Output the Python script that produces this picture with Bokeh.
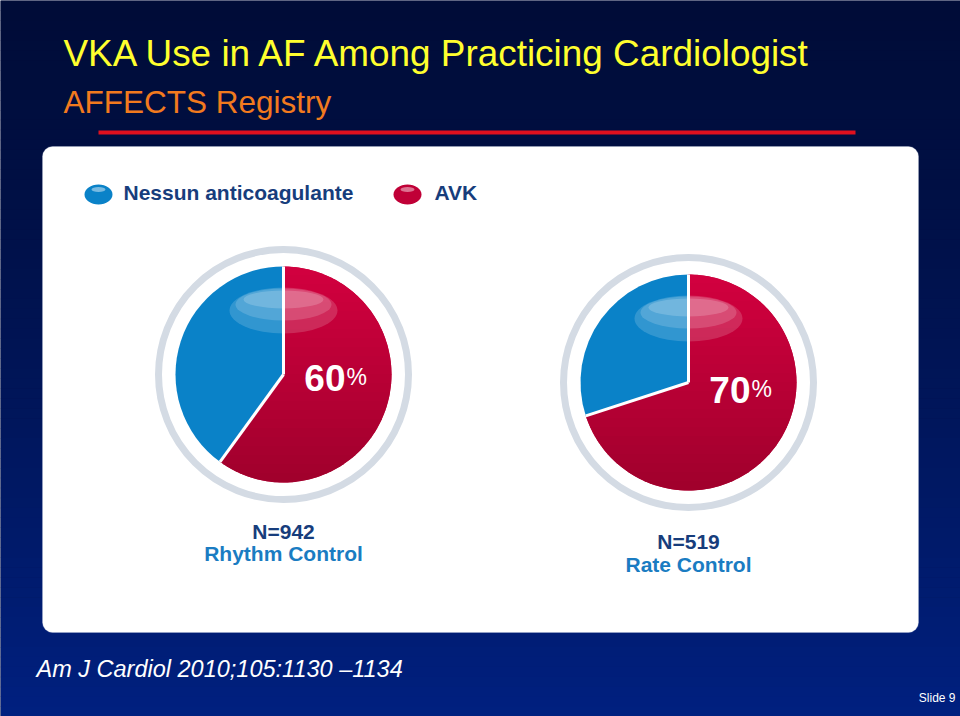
import numpy as np
from bokeh.plotting import figure
from bokeh.models import Range1d, BoxAnnotation
from bokeh.core.properties import value
from bokeh.embed import file_html
from bokeh.resources import INLINE

W, H = 960, 716

# ---- data ----
groups = ["Rhythm Control", "Rate Control"]
n_labels = ["N=942", "N=519"]
avk_pct = [60, 70]
none_pct = [40, 30]
series_names = ["Nessun anticoagulante", "AVK"]
series_colors = ["#0a82c8", "#c00037"]
title_text = "VKA Use in AF Among Practicing Cardiologist"
subtitle_text = "AFFECTS Registry"
citation_text = "Am J Cardiol 2010;105:1130 \u20131134"
slide_text = "Slide 9"

# ---- layout (pixel positions, y measured from top) ----
pie_cx = [283, 688]
pie_cy = [374, 382]
pie_r = 108
ring_r = 125
label_y_n = [531, 541]
label_y_g = [553, 564]
pct_y = [377, 389]

FONT = "Liberation Sans"


def Y(py):
    return H - np.asarray(py, dtype=float)


def mix(a, b, t):
    a = np.array([int(a[i:i + 2], 16) for i in (1, 3, 5)])
    b = np.array([int(b[i:i + 2], 16) for i in (1, 3, 5)])
    c = (a * (1 - t) + b * t).round().astype(int)
    return "#%02x%02x%02x" % tuple(c)


def clip(poly, yv, keep_above):
    out = []
    n = len(poly)
    for k in range(n):
        (x1, y1), (x2, y2) = poly[k], poly[(k + 1) % n]
        in1 = (y1 >= yv) if keep_above else (y1 <= yv)
        in2 = (y2 >= yv) if keep_above else (y2 <= yv)
        if in1:
            out.append((x1, y1))
        if in1 != in2:
            t = (yv - y1) / (y2 - y1)
            out.append((x1 + t * (x2 - x1), yv))
    return out


p = figure(width=W, height=H, x_range=Range1d(0, W), y_range=Range1d(0, H),
           output_backend="svg", toolbar_location=None, min_border=0)
p.axis.visible = False
p.grid.visible = False
p.outline_line_color = None
p.background_fill_color = "#000d3a"
p.border_fill_color = "#000d3a"

# background gradient
n = 72
edges = np.linspace(0, H, n + 1)
cols = [mix("#000c38", "#002080", ((i + 0.5) / n) ** 1.3) for i in range(n)]
bg = p.quad(left=0, right=W, top=Y(edges[:-1]), bottom=Y(edges[1:]) - 0.5,
            fill_color=cols, line_color=None)
bg.level = "image"

# titles
p.text(x=[63], y=Y([53]), text=[title_text], text_font=value(FONT),
       text_font_size="36.9px", text_color="#ffff2e", text_baseline="middle")
p.text(x=[63], y=Y([101]), text=[subtitle_text], text_font=value(FONT),
       text_font_size="31.5px", text_color="#f27a1e", text_baseline="middle")
p.segment(x0=[98], y0=Y([132]), x1=[855], y1=Y([132]), line_color="#e0101e", line_width=4)

# white panel
panel = BoxAnnotation(left=42, right=918, top=float(Y(146)), bottom=float(Y(632)),
                      fill_color="white", fill_alpha=1.0, line_color="#b8c4dc",
                      line_width=1, border_radius=10, level="underlay")
p.add_layout(panel)

# legend
leg_x = [98, 407]
leg_tx = [123, 434]
p.ellipse(x=leg_x, y=Y([194, 194]), width=28, height=20, fill_color=series_colors, line_color=None)
p.ellipse(x=leg_x, y=Y([189, 189]), width=14, height=5, fill_color="white", fill_alpha=0.45, line_color=None)
p.text(x=leg_tx, y=Y([192, 192]), text=series_names, text_font=value(FONT),
       text_font_size="21px", text_font_style="bold", text_color="#173d7c",
       text_baseline="middle")

# pies
for i in range(len(groups)):
    cx, cy = pie_cx[i], float(Y(pie_cy[i]))
    p.circle(x=[cx], y=[cy], radius=ring_r, fill_color="white", line_color="#d4dbe4", line_width=7)
    frac = avk_pct[i] / 100.0
    top = np.pi / 2
    split = top - frac * 2 * np.pi
    # base slices (AVK clockwise from 12 o'clock)
    p.wedge(x=[cx], y=[cy], radius=pie_r, start_angle=[split], end_angle=[top],
            direction="anticlock", fill_color=series_colors[1], line_color=None)
    p.wedge(x=[cx], y=[cy], radius=pie_r, start_angle=[top], end_angle=[split + 2 * np.pi],
            direction="anticlock", fill_color=series_colors[0], line_color=None)
    # vertical shading of the AVK slice
    ang = np.linspace(split, top, 160)
    poly = [(cx, cy)] + [(cx + pie_r * np.cos(a), cy + pie_r * np.sin(a)) for a in ang]
    nb = 24
    bands = np.linspace(cy + pie_r, cy - pie_r, nb + 1)
    xs, ys, bc = [], [], []
    for k in range(nb):
        part = clip(clip(poly, bands[k + 1], True), bands[k] + 0.6, False)
        if len(part) >= 3:
            xs.append([q[0] for q in part])
            ys.append([q[1] for q in part])
            bc.append(mix("#d2003f", "#a0002c", (k + 0.5) / nb))
    p.patches(xs=xs, ys=ys, fill_color=bc, line_color=None)
    # gloss highlight
    p.ellipse(x=[cx], y=[cy + 64], width=108, height=46, fill_color="white", fill_alpha=0.16, line_color=None)
    p.ellipse(x=[cx], y=[cy + 70], width=96, height=32, fill_color="white", fill_alpha=0.16, line_color=None)
    p.ellipse(x=[cx], y=[cy + 75], width=80, height=18, fill_color="white", fill_alpha=0.18, line_color=None)
    # separators
    p.segment(x0=[cx, cx], y0=[cy, cy],
              x1=[cx, cx + pie_r * np.cos(split)], y1=[cy + pie_r, cy + pie_r * np.sin(split)],
              line_color="white", line_width=3)
    # percentage label
    py = float(Y(pct_y[i]))
    p.text(x=[cx + 62], y=[py], text=[str(avk_pct[i])], text_font=value(FONT),
           text_font_size="37px", text_font_style="bold", text_color="white",
           text_align="right", text_baseline="middle")
    p.text(x=[cx + 63], y=[py + 1], text=["%"], text_font=value(FONT),
           text_font_size="23px", text_color="white",
           text_align="left", text_baseline="middle")

# group labels
p.text(x=pie_cx, y=Y(label_y_n), text=n_labels, text_font=value(FONT), text_font_size="21px",
       text_font_style="bold", text_color="#173d7c", text_align="center", text_baseline="middle")
p.text(x=pie_cx, y=Y(label_y_g), text=groups, text_font=value(FONT), text_font_size="21px",
       text_font_style="bold", text_color="#1a7cc2", text_align="center", text_baseline="middle")

# citation & slide number
p.text(x=[36], y=Y([668]), text=[citation_text], text_font=value(FONT), text_font_size="23.5px",
       text_font_style="italic", text_color="white", text_baseline="middle")
p.text(x=[955], y=Y([697]), text=[slide_text], text_font=value(FONT), text_font_size="12px",
       text_color="white", text_align="right", text_baseline="middle")

open("out.html", "w").write(file_html(p, INLINE))
